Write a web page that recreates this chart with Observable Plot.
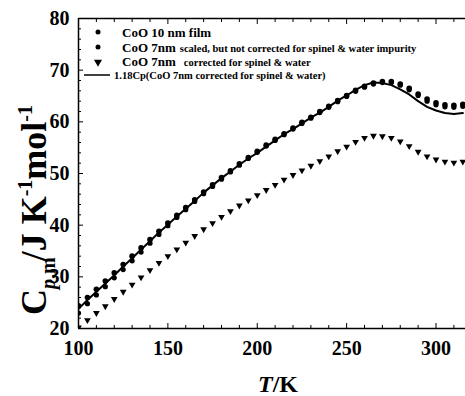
<!DOCTYPE html>
<html><head><meta charset="utf-8">
<script src="https://cdn.jsdelivr.net/npm/d3@7"></script>
<script src="https://cdn.jsdelivr.net/npm/@observablehq/plot@0.6"></script>
<style>
body{margin:0;background:#fff}
#chart{position:relative;width:465px;height:396px}
</style>
</head><body><div id="chart"></div>
<script>
const temps = [100,105,110,115,120,125,130,135,140,145,150,155,160,165,170,175,180,185,190,195,200,205,210,215,220,225,230,235,240,245,250,255,260,265,270,275,280,285,290,295,300,305,310,315];
const film10nm = [24.4,26.0,27.6,29.2,30.8,32.4,34.0,35.6,37.2,38.8,40.4,41.9,43.4,44.9,46.4,47.8,49.2,50.5,51.9,53.1,54.3,55.5,56.6,57.7,58.8,59.9,60.9,62.0,63.0,64.1,65.1,66.1,66.9,67.5,67.8,67.8,67.3,66.5,65.4,64.4,63.7,63.3,63.2,63.4];
const scaled7nm = [23.0,24.8,26.5,28.1,29.8,31.4,33.1,34.8,36.5,38.2,39.9,41.5,43.0,44.6,46.1,47.5,48.9,50.3,51.6,52.9,54.1,55.3,56.4,57.5,58.6,59.7,60.7,61.8,62.8,63.9,64.9,65.9,66.7,67.3,67.6,67.6,67.1,66.2,65.1,64.0,63.3,62.9,62.8,63.0];
const corrected7nm = [20.2,21.6,23.0,24.3,25.7,27.1,28.5,29.9,31.3,32.7,34.0,35.3,36.6,37.9,39.2,40.4,41.6,42.7,43.8,44.8,45.8,46.8,47.8,48.8,49.7,50.6,51.5,52.4,53.3,54.3,55.2,56.1,56.9,57.3,57.2,56.9,56.2,55.3,54.2,53.3,52.7,52.3,52.1,52.3];
const scaled118 = [23.8,25.5,27.1,28.7,30.3,32.0,33.6,35.3,36.9,38.6,40.1,41.7,43.2,44.7,46.3,47.7,49.1,50.4,51.7,52.9,54.0,55.2,56.4,57.6,58.6,59.7,60.8,61.8,62.9,64.1,65.1,66.2,67.1,67.6,67.5,67.1,66.3,65.3,64.0,62.9,62.2,61.7,61.5,61.7];
const xMajor = [100,150,200,250,300];
const xMinor = [110,120,130,140,160,170,180,190,210,220,230,240,260,270,280,290,310];
const yMajor = [20,30,40,50,60,70,80];
const yMinor = [22,24,26,28,32,34,36,38,42,44,46,48,52,54,56,58,62,64,66,68,72,74,76,78];

const rows = temps.map((t,i)=>({t, film: film10nm[i], scaled: scaled7nm[i], corr: corrected7nm[i], line: scaled118[i]}));

const serif = "'Liberation Serif','DejaVu Serif',serif";
const plot = Plot.plot({
  width: 465, height: 396,
  marginLeft: 78, marginTop: 18, marginBottom: 68, marginRight: 0,
  x: {domain: [100, 316.5]},
  y: {domain: [20, 80]},
  style: {fontFamily: serif, fontWeight: "bold", background: "white", color: "black", overflow: "visible"},
  marks: [
    Plot.ruleX([100], {strokeWidth: 1.5}),
    Plot.ruleY([20], {strokeWidth: 1.5}),
    Plot.ruleY([80], {strokeWidth: 1.5}),
    Plot.axisX(xMajor, {tickSize: 0, tickPadding: 12, fontSize: 20, label: null}),
    Plot.axisX(xMinor, {text: null, tickSize: 3, dy: -3, label: null}),
    Plot.axisX(xMajor, {text: null, tickSize: 5, dy: -5, label: null}),
    Plot.axisX(xMinor, {anchor: "top", text: null, tickSize: 3, dy: 3, label: null}),
    Plot.axisX(xMajor, {anchor: "top", text: null, tickSize: 5, dy: 5, label: null}),
    Plot.axisY(yMajor, {tickSize: 0, tickPadding: 9, fontSize: 20, label: null}),
    Plot.axisY(yMinor, {text: null, tickSize: 3, dx: 3, label: null}),
    Plot.axisY(yMajor, {text: null, tickSize: 5, dx: 5, label: null}),
    Plot.line(rows, {x: "t", y: "line", stroke: "black", strokeWidth: 2, clip: true}),
    Plot.dot(rows, {x: "t", y: "film", r: 2.8, fill: "black", clip: true}),
    Plot.dot(rows, {x: "t", y: "scaled", r: 2.6, fill: "black", clip: true}),
    Plot.dot(rows, {x: "t", y: "corr", symbol: "triangle", r: 2.5, rotate: 180, fill: "black", clip: true})
  ]
});
document.getElementById("chart").appendChild(plot);

const svg = d3.select(plot);
// legend
const lg = svg.append("g").attr("font-family", serif).attr("font-weight", "bold").attr("fill", "black").attr("text-anchor", "start");
lg.append("circle").attr("cx", 98).attr("cy", 32).attr("r", 2.5);
lg.append("circle").attr("cx", 98).attr("cy", 47).attr("r", 2.5);
lg.append("path").attr("d", d3.symbol(d3.symbolTriangle, 28)()).attr("transform", "translate(98,62) rotate(180)");
lg.append("line").attr("x1", 84).attr("x2", 110).attr("y1", 75).attr("y2", 75).attr("stroke", "black").attr("stroke-width", 1.5);
lg.append("text").attr("x", 122).attr("y", 32).attr("dy", "0.35em").attr("font-size", 13).text("CoO 10 nm film");
const t2 = lg.append("text").attr("x", 122).attr("y", 47).attr("dy", "0.35em").attr("font-size", 13);
t2.append("tspan").text("CoO 7nm");
t2.append("tspan").attr("font-size", 10.5).attr("dx", 4).text("scaled, but not corrected for spinel & water impurity");
const t3 = lg.append("text").attr("x", 122).attr("y", 61.5).attr("dy", "0.35em").attr("font-size", 13);
t3.append("tspan").text("CoO 7nm");
t3.append("tspan").attr("font-size", 10.5).attr("dx", 8).text("corrected for spinel & water");
lg.append("text").attr("x", 114).attr("y", 75).attr("dy", "0.35em").attr("font-size", 10.5).text("1.18Cp(CoO 7nm corrected for spinel & water)");

// y label
const yl = svg.append("text").attr("transform", "translate(46,315) rotate(-90)").attr("text-anchor", "start")
  .attr("font-family", serif).attr("font-weight", "bold").attr("font-size", 36).attr("fill", "black");
yl.append("tspan").text("C");
yl.append("tspan").attr("font-size", 20).attr("font-style", "italic").attr("dy", 9).text("p");
yl.append("tspan").attr("font-size", 20).text(",m");
yl.append("tspan").attr("dy", -9).attr("dx", -4).text("/J K");
yl.append("tspan").attr("font-size", 20).attr("dy", -14).text("-1");
yl.append("tspan").attr("dy", 14).text("mol");
yl.append("tspan").attr("font-size", 20).attr("dy", -14).text("-1");

// x label
const xl = svg.append("text").attr("x", 278).attr("y", 392).attr("text-anchor", "middle")
  .attr("font-family", serif).attr("font-weight", "bold").attr("font-size", 24).attr("fill", "black");
xl.append("tspan").attr("font-style", "italic").text("T");
xl.append("tspan").text("/K");
</script>
</body></html>
